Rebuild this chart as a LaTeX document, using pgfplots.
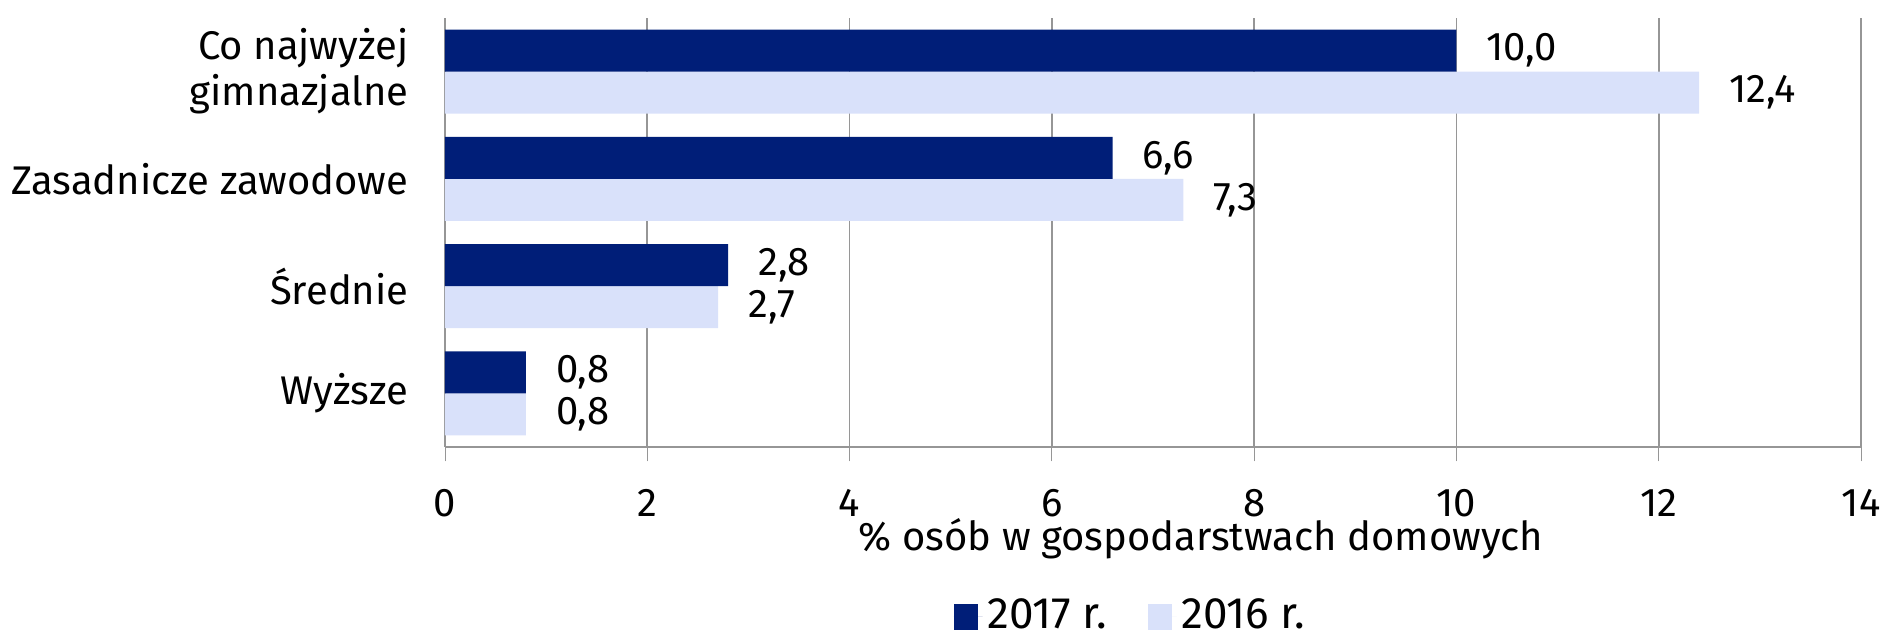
\documentclass[border=0pt]{standalone}
\usepackage{fontspec}
\setmainfont{Fira Sans}
\usepackage{pgfplots}
\pgfplotsset{compat=1.18}
\definecolor{dark}{RGB}{0,30,120}
\definecolor{light}{RGB}{217,225,250}
\definecolor{gridc}{RGB}{150,150,150}

\begin{document}
\begin{tikzpicture}
\begin{axis}[
    /pgf/number format/assume math mode=true,
    scale only axis,
    width=354pt,
    height=107.25pt,
    xbar=0pt,
    bar width=10.5pt,
    y dir=reverse,
    xmin=0, xmax=14,
    ymin=-0.5, ymax=3.5,
    xtick={0,2,...,14},
    ytick={0,1,2,3},
    yticklabels={{Co najwyżej\\gimnazjalne},{Zasadnicze zawodowe},{Średnie},{Wyższe}},
    yticklabel style={align=right, font=\fontsize{10}{11.5}\selectfont},
    ytick style={draw=none},
    extra y ticks={-0.5,0.5,1.5,2.5,3.5},
    extra y tick labels={},
    extra y tick style={tick style={draw=gridc}, grid=none},
    y tick label style={xshift=-2pt},
    xticklabel style={font=\fontsize{10}{12}\selectfont, yshift=-3.5pt},
    tick align=outside,
    major tick length=3.6pt,
    x tick style={draw=gridc},
    xmajorgrids,
    grid style={gridc, line width=0.4pt},
    axis x line*=bottom,
    axis y line*=left,
    axis line style={gridc, line width=0.5pt},
    xlabel={\% osób w gospodarstwach domowych},
    xlabel style={font=\fontsize{10}{12}\selectfont, yshift=6.5pt, xshift=12pt},
    nodes near coords={\pgfmathprintnumber[fixed,fixed zerofill,precision=1,use comma]{\pgfplotspointmeta}},
    nodes near coords style={font=\fontsize{10}{12}\selectfont, anchor=west, xshift=4pt},
    point meta=explicit,
    reverse legend,
    legend style={at={(0.485,-0.396)}, anchor=center, draw=none, legend columns=2,
        font=\fontsize{11}{13}\selectfont, nodes={inner sep=1.2pt},
        /tikz/every even column/.append style={column sep=9pt}},
    legend image code/.code={\fill[#1] (0pt,-3.2pt) rectangle (6pt,3.2pt); \path (0pt,0pt) -- (7.2pt,0pt);},
]
% 2016 first so that it sits below 2017 in each pair
\addplot[fill=light, draw=none] coordinates {
    (12.4,0) [12.4]
    (7.3,1) [7.3]
    (2.7,2) [2.7]
    (0.8,3) [0.8]
};
\addplot[fill=dark, draw=none] coordinates {
    (10.0,0) [10.0]
    (6.6,1) [6.6]
    (2.8,2) [2.8]
    (0.8,3) [0.8]
};
\legend{2016 r., 2017 r.}
\coordinate (sw) at (axis cs:0,3.5);
\end{axis}
\pgfresetboundingbox
\path (sw) ++(-111.25pt,-47.75pt) rectangle ++(471.5pt,159.5pt);
\end{tikzpicture}
\end{document}
